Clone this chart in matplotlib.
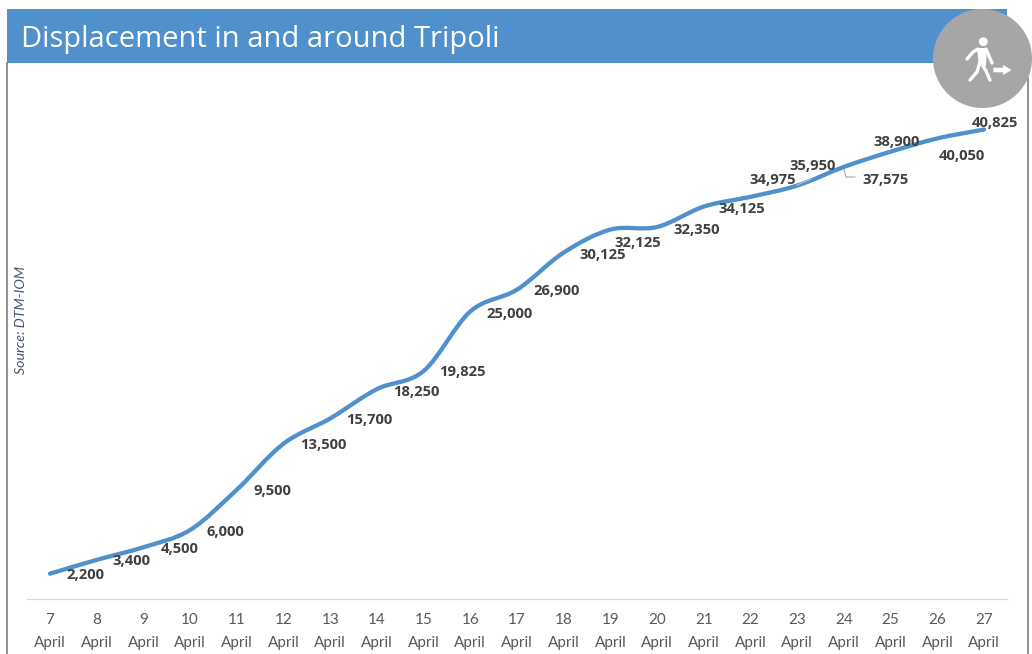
import matplotlib
matplotlib.use("Agg")
import matplotlib.pyplot as plt
import numpy as np
from matplotlib.patches import Circle, PathPatch, Polygon, Rectangle
from matplotlib.path import Path

W, H = 1032, 654

days = list(range(7, 28))
displaced = [2200, 3400, 4500, 6000, 9500, 13500, 15700, 18250, 19825, 25000, 26900,
             30125, 32125, 32350, 34125, 34975, 35950, 37575, 38900, 40050, 40825]
title = "Displacement in and around Tripoli"
source = "Source: DTM-IOM"

# hand placed data labels, pixels from the point (x right, y down)
label_offsets = [(35, 1), (35, 1), (36, 2), (35, 2), (36, 1), (40, 1), (39, 2), (39, 3),
                 (39, 1), (39, 2), (40, 1), (39, 2), (27, 13), (40, 3), (38, 2), (22, -17),
                 (15, -20), (42, 13), (6, -10), (25, 18), (11, -7)]


def smooth_path(xs, ys):
    # same kind of smoothing Excel uses: Catmull-Rom as bezier segments
    xs = np.asarray(xs, dtype=float)
    ys = np.asarray(ys, dtype=float)
    verts = [(xs[0], ys[0])]
    codes = [Path.MOVETO]
    n = len(xs)
    for i in range(n - 1):
        a, b = max(i - 1, 0), min(i + 2, n - 1)
        verts.append((xs[i] + (xs[i + 1] - xs[a]) / 6, ys[i] + (ys[i + 1] - ys[a]) / 6))
        verts.append((xs[i + 1] - (xs[b] - xs[i]) / 6, ys[i + 1] - (ys[b] - ys[i]) / 6))
        verts.append((xs[i + 1], ys[i + 1]))
        codes += [Path.CURVE4] * 3
    return Path(verts, codes)


fig = plt.figure(figsize=(W / 100, H / 100), dpi=100, facecolor="white")

# pixel overlay for the banner, frame and icon
bg = fig.add_axes([0, 0, 1, 1], zorder=3)
bg.set_xlim(0, W)
bg.set_ylim(H, 0)
bg.axis("off")
bg.patch.set_alpha(0)

# chart area, 0 sits on y=599 px
left, right, bottom, top = 26.6, 1007.4, 599, 81.5
ax = fig.add_axes([left / W, 1 - bottom / H, (right - left) / W, (bottom - top) / H], zorder=2)
x = np.arange(len(days))
ax.set_xlim(-0.5, len(days) - 0.5)
ax.set_ylim(0, 45000)
ax.patch.set_alpha(0)
ax.add_patch(PathPatch(smooth_path(x, displaced), fill=False, edgecolor="#4F90CD", lw=3.1,
                       capstyle="round", joinstyle="round"))

for xi, val, (dx, dy) in zip(x, displaced, label_offsets):
    ax.annotate(f"{val:,}", (xi, val), xytext=(dx, -dy), textcoords="offset pixels",
                ha="center", va="center", fontsize=10.6, fontweight="bold",
                family="Open Sans", color="#404040", zorder=5)

ax.set_xticks(x)
ax.set_xticklabels([f"{d}\nApril" for d in days], family="Lato", fontsize=11,
                   color="#595959", linespacing=1.85)
ax.tick_params(axis="x", length=0, pad=10)
ax.set_yticks([])
for name in ["top", "left", "right"]:
    ax.spines[name].set_visible(False)
ax.spines["bottom"].set_color("#D9D9D9")
ax.spines["bottom"].set_linewidth(0.9)

# leader lines for the 37,575 and 35,950 labels
bg.plot([844, 846, 855], [170, 177, 177], color="#A6A6A6", lw=0.8)
bg.plot([797, 811], [185, 179], color="#BFBFBF", lw=0.8)

# banner and frame
bg.add_patch(Rectangle((7, 9), 1000, 54, facecolor="#4F90CD", edgecolor="none"))
bg.plot([7, 7], [63, H], color="#7F7F7F", lw=1.2)
bg.plot([1027.5, 1027.5], [78, H], color="#7F7F7F", lw=1.2)
bg.text(21, 46.5, title, color="white", fontsize=21, family="Open Sans", va="baseline", ha="left")
bg.text(21.5, 320, source, color="#44546A", fontsize=10.2, style="italic", family="Lato",
        rotation=90, va="center", ha="center")

# walking person icon
bg.add_patch(Circle((982.5, 58.5), 49.5, facecolor="#A6A6A6", edgecolor="none", zorder=4))
bg.add_patch(Circle((983.3, 41.7), 4.4, facecolor="white", edgecolor="none", zorder=5))
icon_lines = [
    ([967, 973, 978], [59, 52, 49]),
    ([986, 989, 992], [49, 56, 63]),
    ([980, 977, 970], [62, 72, 80]),
    ([982, 986, 990], [64, 71, 80]),
]
for lx, ly in icon_lines:
    bg.plot(lx, ly, color="white", lw=2.4, solid_capstyle="round", solid_joinstyle="round", zorder=5)
bg.add_patch(Polygon([(977, 48), (987, 48), (986, 66), (979, 66)], closed=True,
                     facecolor="white", edgecolor="none", zorder=5))
bg.add_patch(Polygon([(993.3, 67.7), (1003, 67.7), (1003, 65), (1011.7, 70), (1003, 75), (1003, 72.3), (993.3, 72.3)],
                     closed=True, facecolor="white", edgecolor="none", zorder=5))

fig.savefig("out.png", dpi=100)
